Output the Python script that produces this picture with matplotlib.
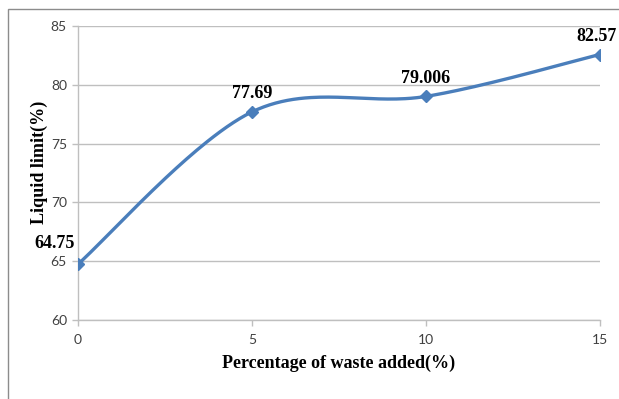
import numpy as np
import matplotlib
matplotlib.use("Agg")
import matplotlib.pyplot as plt
from matplotlib.patches import Rectangle

# waste added vs liquid limit
waste_pct = [0, 5, 10, 15]
liquid_limit = [64.75, 77.69, 79.006, 82.57]
value_labels = ["64.75", "77.69", "79.006", "82.57"]
y_ticks = [60, 65, 70, 75, 80, 85]
x_ticks = [0, 5, 10, 15]

LINE_COLOR = "#4A7EBB"
GRID_COLOR = "#BFBFBF"


def smooth_curve(xs, ys, n=60):
    # Catmull-Rom style bezier, same idea as a spreadsheet "smoothed line"
    pts = np.column_stack([xs, ys]).astype(float)
    padded = np.vstack([pts[0], pts, pts[-1]])
    out = []
    t = np.linspace(0, 1, n)[:, None]
    for i in range(1, len(padded) - 2):
        p0, p1, p2, p3 = padded[i - 1], padded[i], padded[i + 1], padded[i + 2]
        c1 = p1 + (p2 - p0) / 6
        c2 = p2 - (p3 - p1) / 6
        seg = ((1 - t) ** 3) * p1 + 3 * ((1 - t) ** 2) * t * c1 + 3 * (1 - t) * t ** 2 * c2 + t ** 3 * p2
        out.append(seg if i == 1 else seg[1:])
    out = np.vstack(out)
    return out[:, 0], out[:, 1]


fig = plt.figure(figsize=(6.19, 3.99), dpi=100)
ax = fig.add_axes([0.126, 0.198, 0.843, 0.737])

# outer chart border (only top/left visible in the crop)
fig.patches.append(Rectangle((8 / 619, -0.1), 1.2, (399 - 9) / 399 + 0.1,
                             transform=fig.transFigure, fill=False,
                             edgecolor="#8C8C8C", linewidth=1.0))

sx, sy = smooth_curve(waste_pct, liquid_limit)
ax.plot(sx, sy, color=LINE_COLOR, linewidth=2.4, zorder=3, solid_capstyle="round")
ax.plot(waste_pct, liquid_limit, linestyle="none", marker="D", markersize=6.5,
        color=LINE_COLOR, zorder=4)

offsets = [(-17, 9), (0, 7), (0, 7), (-2, 7)]
for x, y, lab, off in zip(waste_pct, liquid_limit, value_labels, offsets):
    ax.annotate(lab, (x, y), xytext=off, textcoords="offset points",
                ha="center", va="bottom", fontsize=13, fontweight="bold",
                family="Liberation Serif", color="black", clip_on=False)

ax.set_xlim(0, 15)
ax.set_ylim(60, 85)
ax.set_xticks(x_ticks)
ax.set_yticks(y_ticks)
ax.yaxis.grid(True, color=GRID_COLOR, linewidth=1.0)
ax.set_axisbelow(True)

for side in ["top", "right"]:
    ax.spines[side].set_visible(False)
for side in ["left", "bottom"]:
    ax.spines[side].set_color(GRID_COLOR)
    ax.spines[side].set_linewidth(1.0)

ax.tick_params(axis="both", colors=GRID_COLOR, length=4, width=1.0,
               labelcolor="#404040", labelsize=10)
for t in ax.get_xticklabels() + ax.get_yticklabels():
    t.set_family("Lato")
ax.tick_params(axis="x", pad=6)
ax.tick_params(axis="y", pad=4)

ax.set_xlabel("Percentage of waste added(%)", fontsize=13, fontweight="bold",
              family="Liberation Serif", labelpad=6)
ax.set_ylabel("Liquid limit(%)", fontsize=13, fontweight="bold",
              family="Liberation Serif")
ax.yaxis.set_label_coords(-0.057, 0.537)

fig.savefig("out.png", dpi=100)
